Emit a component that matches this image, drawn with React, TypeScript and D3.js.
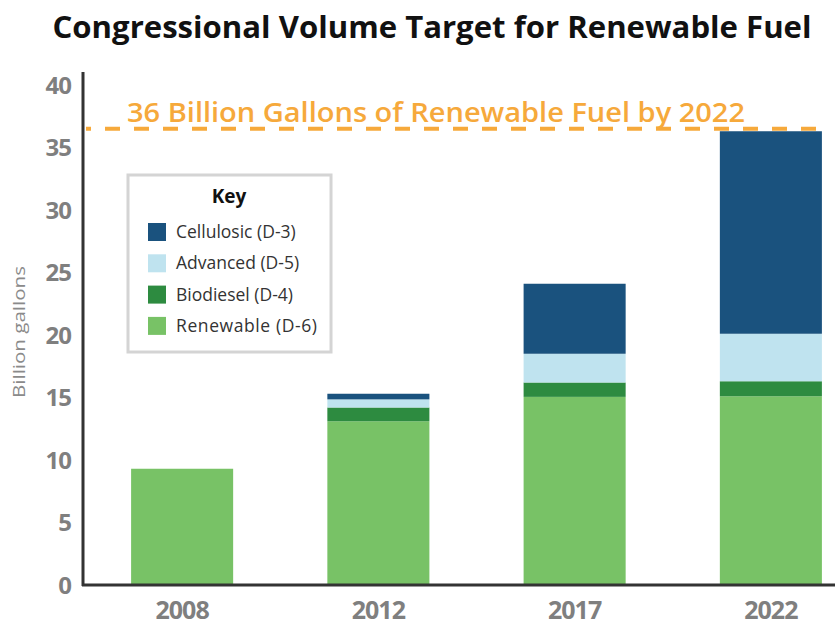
import React from "react";
import * as d3 from "d3";

const years = ["2008", "2012", "2017", "2022"];
const renewable = [9.3, 13.1, 15.05, 15.1];
const biodiesel = [0, 1.1, 1.15, 1.2];
const advanced = [0, 0.65, 2.3, 3.8];
const cellulosic = [0, 0.45, 5.6, 16.2];
const yTicks = [0, 5, 10, 15, 20, 25, 30, 35, 40];
const target = 36.5;

const seriesKeys = ["renewable", "biodiesel", "advanced", "cellulosic"];
const seriesLabels: Record<string, string> = {
    cellulosic: "Cellulosic (D-3)",
    advanced: "Advanced (D-5)",
    biodiesel: "Biodiesel (D-4)",
    renewable: "Renewable (D-6)",
};
const colors: Record<string, string> = {
    cellulosic: "#1a527e",
    advanced: "#bfe3ef",
    biodiesel: "#2d8b40",
    renewable: "#78c266",
};

const W = 835;
const H = 628;
const font = "'Open Sans', 'Noto Sans', sans-serif";

export default function App() {
    const rows = years.map((y, i) => ({
        year: y,
        renewable: renewable[i],
        biodiesel: biodiesel[i],
        advanced: advanced[i],
        cellulosic: cellulosic[i],
    }));
    const stacked = d3.stack<any>().keys(seriesKeys)(rows);

    const x = d3.scaleBand().domain(years).range([84, 869]).paddingInner(0.48).paddingOuter(0.24);
    const y = d3.scaleLinear().domain([0, 40]).range([585, 85]);

    const legendOrder = ["cellulosic", "advanced", "biodiesel", "renewable"];

    return (
        <div style={{ position: "fixed", left: 0, top: 0 }}>
            <svg width={W} height={H} style={{ display: "block", background: "#fff" }}>
                {/* title */}
                <text x={432} y={38} textAnchor="middle" fontFamily={font} fontWeight={700} fontSize={30}
                    fill="#111" textLength={759} lengthAdjust="spacingAndGlyphs">
                    Congressional Volume Target for Renewable Fuel
                </text>

                {/* bars */}
                {stacked.map((s) => (
                    <g key={s.key} fill={colors[s.key]}>
                        {s.map((d, i) =>
                            d[1] - d[0] > 0 ? (
                                <rect key={i} x={x(years[i])} width={x.bandwidth()} y={y(d[1])} height={y(d[0]) - y(d[1])} />
                            ) : null
                        )}
                    </g>
                ))}

                {/* target line */}
                <line x1={86} x2={822} y1={y(target)} y2={y(target)} stroke="#f6a93b" strokeWidth={4}
                    strokeDasharray="15,14" strokeDashoffset={10} />
                <text x={127} y={122} fontFamily={font} fontWeight={600} fontSize={27} fill="#f6a93b"
                    textLength={618} lengthAdjust="spacingAndGlyphs">
                    36 Billion Gallons of Renewable Fuel by 2022
                </text>

                {/* axes */}
                <line x1={83} x2={83} y1={72} y2={586} stroke="#333" strokeWidth={3} />
                <line x1={82} x2={835} y1={585} y2={585} stroke="#333" strokeWidth={3} />
                {yTicks.map((t) => (
                    <text key={t} x={71} y={y(t)} dy="0.36em" textAnchor="end" fontFamily={font} fontWeight={700}
                        fontSize={24} fill="#7f7f7f" letterSpacing={-1}>
                        {t}
                    </text>
                ))}
                {years.map((yr) => (
                    <text key={yr} x={(x(yr) ?? 0) + x.bandwidth() / 2} y={619} textAnchor="middle" fontFamily={font}
                        fontWeight={700} fontSize={25} fill="#7f7f7f" letterSpacing={-1}>
                        {yr}
                    </text>
                ))}
                <text transform="translate(25,332) rotate(-90)" textAnchor="middle" fontFamily={font} fontSize={16}
                    fill="#8a8a8a" textLength={132} lengthAdjust="spacingAndGlyphs">
                    Billion gallons
                </text>

                {/* legend */}
                <rect x={128} y={175} width={203} height={177} fill="#fff" stroke="#d4d4d4" strokeWidth={3} />
                <text x={229} y={203} textAnchor="middle" fontFamily={font} fontWeight={700} fontSize={19} fill="#111">
                    Key
                </text>
                {legendOrder.map((k, i) => (
                    <g key={k} transform={`translate(148, ${232 + i * 31.3})`}>
                        <rect x={0} y={-9} width={18} height={18} fill={colors[k]} />
                        <text x={28} y={0} dy="0.35em" fontFamily={font} fontSize={17.5} fill="#333"
                            textLength={k === "renewable" ? 141 : undefined}>
                            {seriesLabels[k]}
                        </text>
                    </g>
                ))}
            </svg>
        </div>
    );
}
